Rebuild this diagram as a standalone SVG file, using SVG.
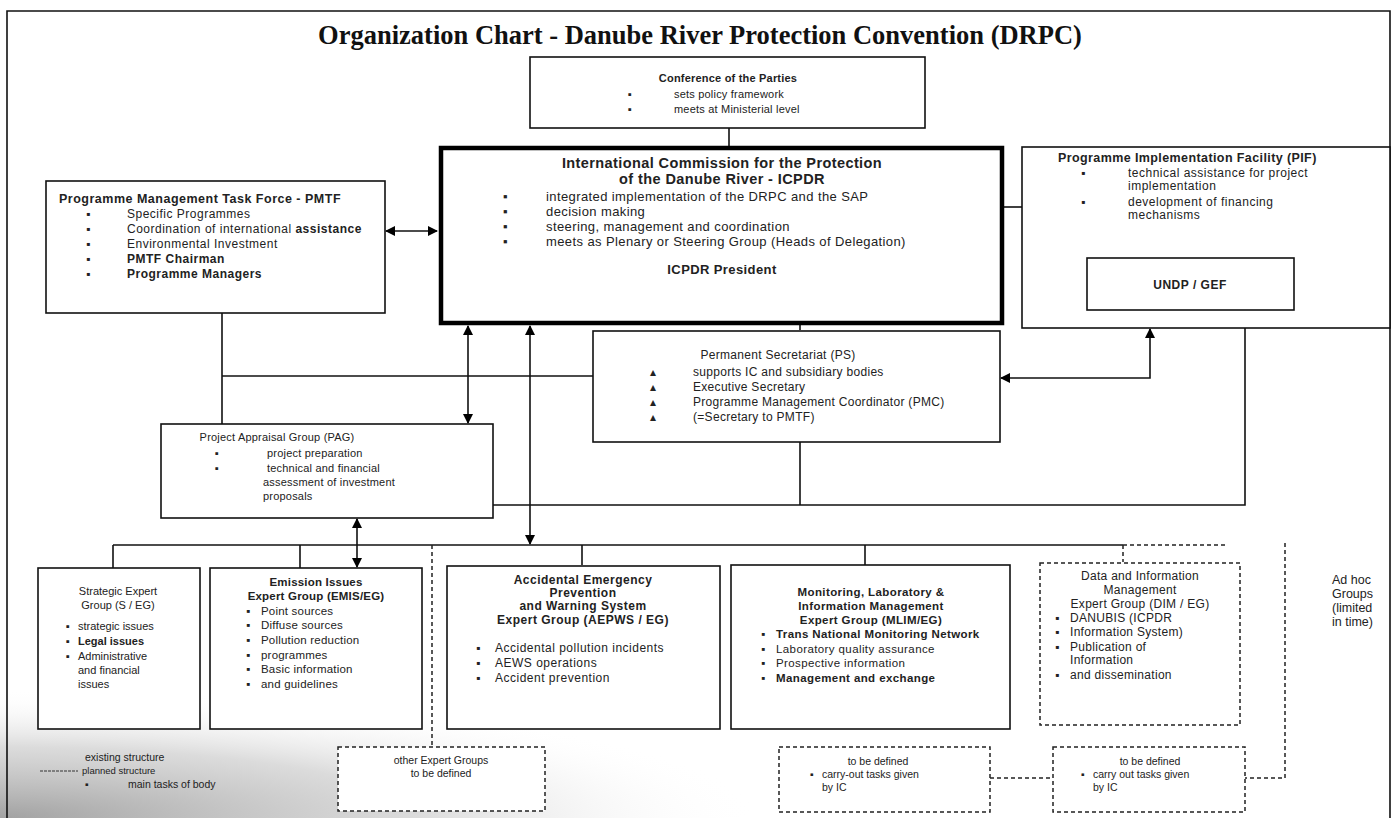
<svg xmlns="http://www.w3.org/2000/svg" width="1397" height="818" viewBox="0 0 1397 818">
<defs>
<style>
.box{fill:#fff;stroke:#111;stroke-width:1.6}
.thick{fill:#fff;stroke:#000;stroke-width:4.5}
.dbox{fill:#fff;stroke:#222;stroke-width:1.5;stroke-dasharray:4 3}
.ln{fill:none;stroke:#111;stroke-width:1.6}
.dl{fill:none;stroke:#222;stroke-width:1.5;stroke-dasharray:4 3}
text{font-family:"Liberation Sans",Arial,sans-serif;font-size:10.5px;fill:#222}
.b{font-weight:bold}
.c{text-anchor:middle}
.title{font-family:"Liberation Serif","Times New Roman",serif;font-size:26.5px;font-weight:bold;fill:#111}
#conference text{font-size:11px;letter-spacing:.2px}
#icpdr text{font-size:13px;letter-spacing:.4px}
#icpdr text.t{font-size:14.5px;letter-spacing:.4px}
#pmtf text{font-size:12px;letter-spacing:.5px}
#pmtf text.t{font-size:12.5px;letter-spacing:.5px}
#pif text{font-size:12px;letter-spacing:.5px}
#pif text.t{font-size:12.5px;letter-spacing:.4px}
#ps text{font-size:12px;letter-spacing:.3px}
#pag text{font-size:11px;letter-spacing:.2px}
#emission text{font-size:11.5px;letter-spacing:.2px}
#aepws text{font-size:12px;letter-spacing:.5px}
#mlim text{font-size:11.5px;letter-spacing:.4px}
#dim text{font-size:12px;letter-spacing:.3px}
#strategic text{font-size:11px}
#adhoc text{font-size:12.5px}
</style>
<marker id="ah" viewBox="0 0 10 10" refX="9" refY="5" markerWidth="10" markerHeight="10" markerUnits="userSpaceOnUse" orient="auto-start-reverse">
<path d="M0,0 L10,5 L0,10 z" fill="#000"/>
</marker>
<radialGradient id="shade" gradientUnits="userSpaceOnUse" cx="0" cy="818" r="760" gradientTransform="translate(0,818) scale(1,0.17) translate(0,-818)">
<stop offset="0" stop-color="#8a8a8a" stop-opacity="0.8"/>
<stop offset="0.55" stop-color="#b0b0b0" stop-opacity="0.45"/>
<stop offset="1" stop-color="#fff" stop-opacity="0"/>
</radialGradient>
</defs>
<rect x="0" y="0" width="1397" height="818" fill="#fff"/>
<rect x="0" y="680" width="800" height="138" fill="url(#shade)"/>
<path class="ln" d="M7,818 V11 H1390 V818"/>
<text class="title c" x="700" y="44">Organization Chart - Danube River Protection Convention (DRPC)</text>

<g id="connectors">
<line class="ln" x1="729" y1="128" x2="729" y2="147"/>
<line class="ln" x1="386" y1="231" x2="437" y2="231" marker-start="url(#ah)" marker-end="url(#ah)"/>
<line class="ln" x1="1003" y1="207" x2="1022" y2="207"/>
<line class="ln" x1="468" y1="326" x2="468" y2="423" marker-start="url(#ah)" marker-end="url(#ah)"/>
<line class="ln" x1="530" y1="326" x2="530" y2="544" marker-start="url(#ah)" marker-end="url(#ah)"/>
<line class="ln" x1="800" y1="323" x2="800" y2="330"/>
<line class="ln" x1="222" y1="313" x2="222" y2="424"/>
<line class="ln" x1="222" y1="376" x2="593" y2="376"/>
<path class="ln" d="M1001,378 H1150 V329" marker-start="url(#ah)" marker-end="url(#ah)"/>
<line class="ln" x1="800" y1="442" x2="800" y2="505"/>
<path class="ln" d="M493,505 H1245 V328"/>
<line class="ln" x1="357" y1="519" x2="357" y2="567" marker-start="url(#ah)" marker-end="url(#ah)"/>
<line class="ln" x1="113" y1="545" x2="1123" y2="545"/>
<line class="ln" x1="113" y1="545" x2="113" y2="568"/>
<line class="ln" x1="300" y1="545" x2="300" y2="568"/>
<line class="ln" x1="582" y1="545" x2="582" y2="565"/>
<line class="ln" x1="865" y1="545" x2="865" y2="565"/>
<line class="dl" x1="1123" y1="545" x2="1225" y2="545"/>
<line class="dl" x1="1123" y1="545" x2="1123" y2="562"/>
<line class="dl" x1="432" y1="545" x2="432" y2="747"/>
<path class="dl" d="M1285,543 V778 H1245"/>
<line class="dl" x1="990" y1="778" x2="1053" y2="778"/>
</g>

<g id="conference">
<rect class="box" x="530" y="57" width="395" height="71"/>
<text class="c b" x="728" y="82">Conference of the Parties</text>
<text x="628" y="98">▪</text><text x="674" y="98">sets policy framework</text>
<text x="628" y="113">▪</text><text x="674" y="113">meets at Ministerial level</text>
</g>

<g id="icpdr">
<rect class="thick" x="441" y="148" width="561" height="175"/>
<text class="c b t" x="722" y="168">International Commission for the Protection</text>
<text class="c b t" x="722" y="184">of the Danube River - ICPDR</text>
<text x="503" y="201">▪</text><text x="546" y="201">integrated implementation of the DRPC and  the SAP</text>
<text x="503" y="216">▪</text><text x="546" y="216">decision making</text>
<text x="503" y="231">▪</text><text x="546" y="231">steering, management and coordination</text>
<text x="503" y="246">▪</text><text x="546" y="246">meets as Plenary or Steering Group (Heads of Delegation)</text>
<text class="c b" x="722" y="274">ICPDR President</text>
</g>

<g id="pmtf">
<rect class="box" x="46" y="181" width="339" height="132"/>
<text class="b t" x="59" y="203">Programme Management Task Force - PMTF</text>
<text x="86" y="218">▪</text><text x="127" y="218">Specific Programmes</text>
<text x="86" y="233">▪</text><text x="127" y="233">Coordination of international <tspan class="b">assistance</tspan></text>
<text x="86" y="248">▪</text><text x="127" y="248">Environmental Investment</text>
<text x="86" y="263">▪</text><text class="b" x="127" y="263">PMTF Chairman</text>
<text x="86" y="278">▪</text><text class="b" x="127" y="278">Programme Managers</text>
</g>

<g id="pif">
<rect class="box" x="1022" y="147" width="368" height="181"/>
<text class="b t" x="1058" y="162">Programme Implementation Facility (PIF)</text>
<text x="1081" y="177">▪</text><text x="1128" y="177">technical assistance for project</text>
<text x="1128" y="190">implementation</text>
<text x="1081" y="206">▪</text><text x="1128" y="206">development of financing</text>
<text x="1128" y="219">mechanisms</text>
<rect class="box" x="1087" y="258" width="207" height="52"/>
<text class="c b" x="1190" y="289">UNDP / GEF</text>
</g>

<g id="ps">
<rect class="box" x="593" y="331" width="407" height="111"/>
<text class="c" x="778" y="359">Permanent Secretariat (PS)</text>
<text x="650" y="376">▴</text><text x="693" y="376">supports IC and subsidiary bodies</text>
<text x="650" y="391">▴</text><text x="693" y="391">Executive Secretary</text>
<text x="650" y="406">▴</text><text x="693" y="406">Programme Management Coordinator (PMC)</text>
<text x="650" y="421">▴</text><text x="693" y="421">(=Secretary to PMTF)</text>
</g>

<g id="pag">
<rect class="box" x="161" y="424" width="332" height="94"/>
<text class="c" x="277" y="441">Project Appraisal Group (PAG)</text>
<text x="215" y="457">▪</text><text x="267" y="457">project preparation</text>
<text x="215" y="472">▪</text><text x="267" y="472">technical and financial</text>
<text x="263" y="486">assessment of investment</text>
<text x="263" y="500">proposals</text>
</g>

<g id="strategic">
<rect class="box" x="38" y="568" width="162" height="161"/>
<text class="c" x="118" y="595">Strategic Expert</text>
<text class="c" x="118" y="609">Group (S / EG)</text>
<text x="66" y="630">▪</text><text x="78" y="630">strategic issues</text>
<text x="66" y="645">▪</text><text class="b" x="78" y="645">Legal issues</text>
<text x="66" y="660">▪</text><text x="78" y="660">Administrative</text>
<text x="78" y="674">and financial</text>
<text x="78" y="688">issues</text>
</g>

<g id="emission">
<rect class="box" x="210" y="568" width="212" height="161"/>
<text class="c b" x="316" y="586">Emission Issues</text>
<text class="c b" x="316" y="600">Expert Group (EMIS/EG)</text>
<text x="246" y="615">▪</text><text x="261" y="615">Point sources</text>
<text x="246" y="629">▪</text><text x="261" y="629">Diffuse sources</text>
<text x="246" y="644">▪</text><text x="261" y="644">Pollution reduction</text>
<text x="246" y="659">▪</text><text x="261" y="659">programmes</text>
<text x="246" y="673">▪</text><text x="261" y="673">Basic information</text>
<text x="246" y="688">▪</text><text x="261" y="688">and guidelines</text>
</g>

<g id="aepws">
<rect class="box" x="447" y="566" width="273" height="163"/>
<text class="c b" x="583" y="584">Accidental Emergency</text>
<text class="c b" x="583" y="597">Prevention</text>
<text class="c b" x="583" y="610">and Warning System</text>
<text class="c b" x="583" y="624">Expert Group (AEPWS / EG)</text>
<text x="476" y="652">▪</text><text x="495" y="652">Accidental pollution incidents</text>
<text x="476" y="667">▪</text><text x="495" y="667">AEWS operations</text>
<text x="476" y="682">▪</text><text x="495" y="682">Accident prevention</text>
</g>

<g id="mlim">
<rect class="box" x="731" y="565" width="279" height="164"/>
<text class="c b" x="871" y="596">Monitoring, Laboratory &amp;</text>
<text class="c b" x="871" y="610">Information Management</text>
<text class="c b" x="871" y="624">Expert Group (MLIM/EG)</text>
<text x="761" y="638">▪</text><text class="b" x="776" y="638">Trans National Monitoring Network</text>
<text x="761" y="653">▪</text><text x="776" y="653">Laboratory quality assurance</text>
<text x="761" y="667">▪</text><text x="776" y="667">Prospective information</text>
<text x="761" y="682">▪</text><text class="b" x="776" y="682">Management and exchange</text>
</g>

<g id="dim">
<rect class="dbox" x="1040" y="563" width="200" height="162"/>
<text class="c" x="1140" y="580">Data and Information</text>
<text class="c" x="1140" y="594">Management</text>
<text class="c" x="1140" y="608">Expert Group (DIM / EG)</text>
<text x="1055" y="622">▪</text><text x="1070" y="622">DANUBIS (ICPDR</text>
<text x="1055" y="636">▪</text><text x="1070" y="636">Information System)</text>
<text x="1055" y="651">▪</text><text x="1070" y="651">Publication of</text>
<text x="1070" y="664">Information</text>
<text x="1055" y="679">▪</text><text x="1070" y="679">and dissemination</text>
</g>

<g id="adhoc">
<text x="1332" y="584">Ad hoc</text>
<text x="1332" y="598">Groups</text>
<text x="1332" y="612">(limited</text>
<text x="1332" y="626">in time)</text>
</g>

<g id="other-groups">
<rect class="dbox" x="338" y="747" width="207" height="64"/>
<text class="c" x="441" y="764">other Expert Groups</text>
<text class="c" x="441" y="777">to be defined</text>
</g>

<g id="tbd1">
<rect class="dbox" x="779" y="747" width="211" height="65"/>
<text class="c" x="878" y="765">to be defined</text>
<text x="810" y="778">▪</text><text x="822" y="778">carry-out tasks given</text>
<text x="822" y="791">by IC</text>
</g>

<g id="tbd2">
<rect class="dbox" x="1053" y="747" width="192" height="65"/>
<text class="c" x="1150" y="765">to be defined</text>
<text x="1081" y="778">▪</text><text x="1093" y="778">carry out tasks given</text>
<text x="1093" y="791">by IC</text>
</g>

<g id="legend">
<text x="85" y="761">existing structure</text>
<line x1="40" y1="771" x2="78" y2="771" stroke="#333" stroke-width="1" stroke-dasharray="3 1"/>
<text x="82" y="774" style="font-size:9.5px">planned structure</text>
<text x="85" y="788">▪</text><text x="128" y="788">main tasks of body</text>
</g>
</svg>
